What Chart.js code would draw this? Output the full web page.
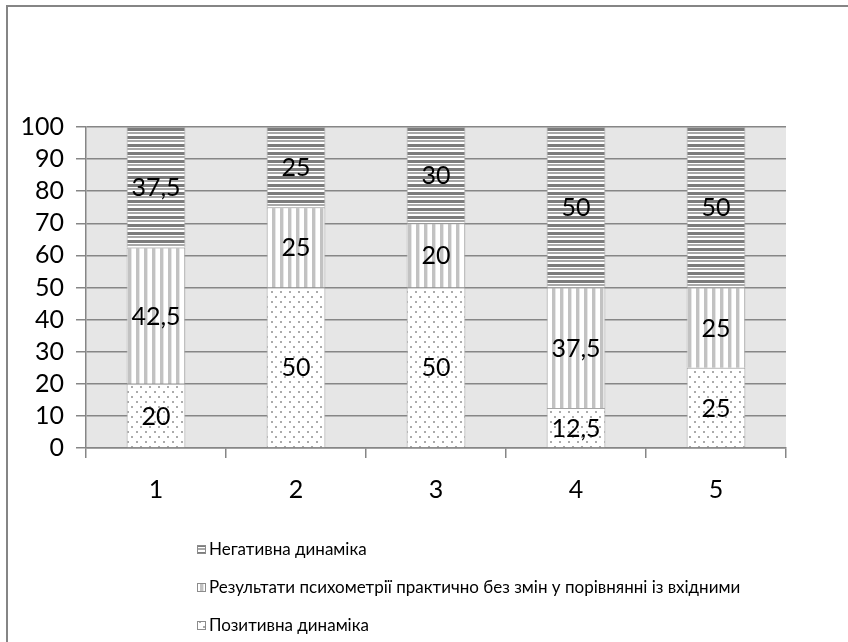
<!DOCTYPE html>
<html>
<head>
<meta charset="utf-8">
<script src="https://cdn.jsdelivr.net/npm/chart.js@4.4.1/dist/chart.umd.min.js"></script>
<style>
  html, body { margin: 0; padding: 0; background: #fff; }
  #wrap { position: relative; width: 848px; height: 642px; }
</style>
</head>
<body>
<div id="wrap"><canvas id="c" width="848" height="642"></canvas></div>
<script>
// Group labels along the category axis
const categories = ['1', '2', '3', '4', '5'];

// Shares per group, percent
const positive  = [20, 50, 50, 12.5, 25];
const unchanged = [42.5, 25, 20, 37.5, 25];
const negative  = [37.5, 25, 30, 50, 50];

// Series names
const seriesNames = [
  'Позитивна динаміка',
  'Результати психометрії практично без змін у порівнянні із вхідними',
  'Негативна динаміка'
];

// Value axis ticks
const yTicks = [0, 10, 20, 30, 40, 50, 60, 70, 80, 90, 100];

const FONT = 'Lato, "Liberation Sans", sans-serif';

// Fill patterns for the three series
function makePattern(w, h, paint) {
  const cv = document.createElement('canvas');
  cv.width = w; cv.height = h;
  const g = cv.getContext('2d');
  g.fillStyle = '#ffffff';
  g.fillRect(0, 0, w, h);
  paint(g);
  return document.getElementById('c').getContext('2d').createPattern(cv, 'repeat');
}

const dotPattern = makePattern(9, 10, g => {
  g.fillStyle = '#ababab';
  g.fillRect(1, 1, 2, 2);
  g.fillRect(5, 6, 2, 2);
});

const vStripePattern = makePattern(8, 8, g => {
  g.fillStyle = '#c2c2c2';
  g.fillRect(0, 0, 3, 8);
  g.fillStyle = '#e6e6e6';
  g.fillRect(3, 0, 1, 8);
});

const hStripePattern = makePattern(8, 8, g => {
  g.fillStyle = '#7c7c7c';
  g.fillRect(0, 0, 8, 3);
  g.fillStyle = '#a8a8a8';
  g.fillRect(0, 4, 8, 2);
});

const fmt = v => String(v).replace('.', ',');

// Plot-area background
const plotBg = {
  id: 'plotBg',
  beforeDraw(chart) {
    const { ctx, chartArea: a } = chart;
    ctx.save();
    ctx.fillStyle = '#e6e6e6';
    ctx.fillRect(a.left, a.top, a.right - a.left, a.bottom - a.top);
    ctx.restore();
  }
};

// Value labels centred in each segment
const segmentLabels = {
  id: 'segmentLabels',
  afterDatasetsDraw(chart) {
    const { ctx } = chart;
    ctx.save();
    ctx.font = '25px ' + FONT;
    ctx.fillStyle = '#000';
    ctx.textAlign = 'center';
    ctx.textBaseline = 'middle';
    chart.data.datasets.forEach((ds, i) => {
      const meta = chart.getDatasetMeta(i);
      meta.data.forEach((bar, j) => {
        const v = ds.data[j];
        if (!v) return;
        ctx.fillText(fmt(v), bar.x, (bar.y + bar.base) / 2 + 1);
      });
    });
    ctx.restore();
  }
};

// Vertical legend below the plot plus the frame lines
const sideLegend = {
  id: 'sideLegend',
  afterDraw(chart) {
    const { ctx } = chart;
    ctx.save();
    const items = chart.data.datasets.slice().reverse();
    const ys = [550, 588, 626];
    ctx.font = '17px ' + FONT;
    ctx.textBaseline = 'middle';
    ctx.textAlign = 'left';
    items.forEach((ds, k) => {
      const y = ys[k];
      ctx.fillStyle = ds.backgroundColor;
      ctx.fillRect(197, y - 5, 9, 9);
      ctx.strokeStyle = '#8c8c8c';
      ctx.lineWidth = 1;
      ctx.strokeRect(197.5, y - 4.5, 8, 8);
      ctx.fillStyle = '#000';
      ctx.fillText(ds.label, 209, y);
    });
    ctx.strokeStyle = '#858585';
    ctx.lineWidth = 2;
    ctx.beginPath();
    ctx.moveTo(7, 642);
    ctx.lineTo(7, 6);
    ctx.lineTo(848, 6);
    ctx.stroke();
    ctx.restore();
  }
};

const barStyle = {
  borderColor: '#a6a6a6',
  borderWidth: 1,
  barPercentage: 0.42,
  categoryPercentage: 1.0
};

new Chart(document.getElementById('c'), {
  type: 'bar',
  data: {
    labels: categories,
    datasets: [
      Object.assign({ label: seriesNames[0], data: positive,  backgroundColor: dotPattern }, barStyle),
      Object.assign({ label: seriesNames[1], data: unchanged, backgroundColor: vStripePattern }, barStyle),
      Object.assign({ label: seriesNames[2], data: negative,  backgroundColor: hStripePattern }, barStyle)
    ]
  },
  options: {
    responsive: false,
    animation: false,
    devicePixelRatio: 1,
    layout: { padding: { left: 0, top: 127, right: 62, bottom: 0 } },
    plugins: {
      legend: { display: false },
      tooltip: { enabled: false }
    },
    scales: {
      x: {
        stacked: true,
        grid: {
          offset: true,
          drawOnChartArea: false,
          drawTicks: true,
          tickLength: 10,
          color: '#868686',
          lineWidth: 1.5
        },
        border: { color: '#868686', width: 1.5 },
        ticks: { color: '#000', font: { family: FONT, size: 25 }, padding: 17 },
        afterFit(s) { s.height = 194; }
      },
      y: {
        stacked: true,
        min: 0,
        max: 100,
        afterBuildTicks(s) { s.ticks = yTicks.map(v => ({ value: v })); },
        grid: {
          color: '#868686',
          lineWidth: 1.5,
          tickLength: 10
        },
        border: { color: '#868686', width: 1.5 },
        ticks: {
          color: '#000',
          font: { family: FONT, size: 25, lineHeight: 1 },
          padding: 12,
          autoSkip: false
        },
        afterFit(s) { s.width = 86; }
      }
    }
  },
  plugins: [plotBg, segmentLabels, sideLegend]
});
</script>
</body>
</html>
